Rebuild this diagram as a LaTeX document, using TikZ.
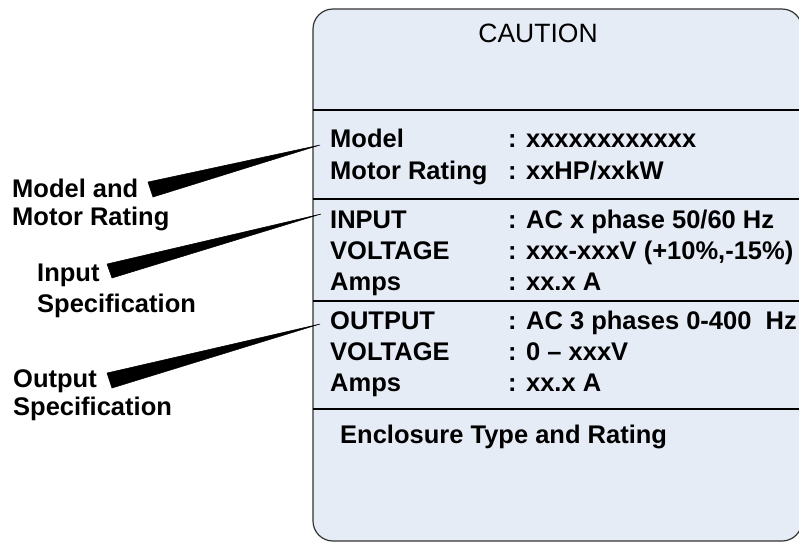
\documentclass[tikz,border=0pt]{standalone}
\usepackage{fontspec}
\setmainfont{Liberation Sans}
\begin{document}
\begin{tikzpicture}[x=1pt,y=-1pt,
  lbl/.style={inner sep=0pt, anchor=base west, font=\fontsize{25.5}{28}\selectfont\bfseries},
  ttl/.style={inner sep=0pt, anchor=base, font=\fontsize{26.5}{30}\selectfont},
  sep/.style={line width=1.5pt, draw=black},
  wedge/.style={fill=black, draw=black, line width=0.5pt, line join=miter}]
\definecolor{panelblue}{RGB}{230,236,246}
\useasboundingbox (0,0) rectangle (799,542);
% panel
\draw[fill=panelblue, draw=black!80, line width=1.2pt, rounded corners=20pt] (313,9) rectangle (802,541);
\coordinate (L1) at (313,110); \coordinate (R1) at (802,110);
\coordinate (L2) at (313,199); \coordinate (R2) at (802,199);
\coordinate (L3) at (313,301); \coordinate (R3) at (802,301);
\coordinate (L4) at (313,409); \coordinate (R4) at (802,409);
\draw[sep] (L1) -- (R1);
\draw[sep] (L2) -- (R2);
\draw[sep] (L3) -- (R3);
\draw[sep] (L4) -- (R4);
% title
\node[ttl] (caution) at (538,42) {CAUTION};
% rows
\node[lbl] (model) at (330,147) {Model};
\node[lbl] (modelv) at (508,147) {: xxxxxxxxxxxx};
\node[lbl] (motor) at (330,179) {Motor Rating};
\node[lbl] (motorv) at (508,179) {: xxHP/xxkW};
\node[lbl] (input) at (330,228) {INPUT};
\node[lbl] (inputv) at (508,228) {: AC x phase 50/60 Hz};
\node[lbl] (ivolt) at (330,259) {VOLTAGE};
\node[lbl] (ivoltv) at (508,259) {: xxx-xxxV (+10\%,-15\%)};
\node[lbl] (iamps) at (330,290) {Amps};
\node[lbl] (iampsv) at (508,290) {: xx.x A};
\node[lbl] (output) at (330,329) {OUTPUT};
\node[lbl] (outputv) at (508,329) {: AC 3 phases 0-400\ \ Hz};
\node[lbl] (ovolt) at (330,360) {VOLTAGE};
\node[lbl] (ovoltv) at (508,360) {: 0 – xxxV};
\node[lbl] (oamps) at (330,391) {Amps};
\node[lbl] (oampsv) at (508,391) {: xx.x A};
\node[lbl] (encl) at (340,443) {Enclosure Type and Rating};
% left labels
\node[lbl] (lmodel1) at (12,197) {Model and};
\node[lbl] (lmodel2) at (12,225) {Motor Rating};
\node[lbl] (linput1) at (37,281) {Input};
\node[lbl] (linput2) at (37,312) {Specification};
\node[lbl] (loutput1) at (13,387) {Output};
\node[lbl] (loutput2) at (13,415) {Specification};
% wedges
\coordinate (w1a) at (148,182); \coordinate (w1b) at (153,197); \coordinate (w1t) at (320,145);
\coordinate (w2a) at (107,264); \coordinate (w2b) at (112,278); \coordinate (w2t) at (321,214);
\coordinate (w3a) at (107,373); \coordinate (w3b) at (112,388); \coordinate (w3t) at (320,324);
\filldraw[wedge] (w1a) -- (w1t) -- (w1b) -- cycle;
\filldraw[wedge] (w2a) -- (w2t) -- (w2b) -- cycle;
\filldraw[wedge] (w3a) -- (w3t) -- (w3b) -- cycle;
\end{tikzpicture}
\end{document}
